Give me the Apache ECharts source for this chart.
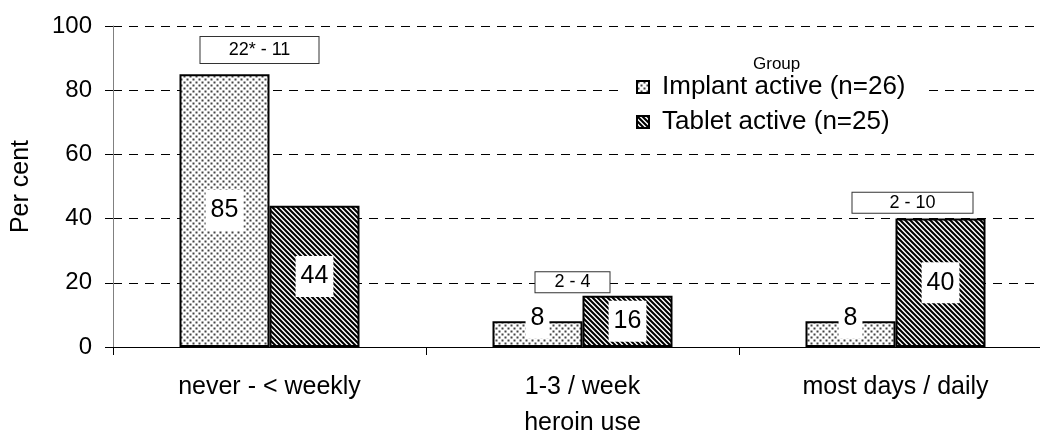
<!DOCTYPE html>
<html>
<head>
<meta charset="utf-8">
<script src="https://cdn.jsdelivr.net/npm/echarts@6/dist/echarts.min.js"></script>
<style>
  html, body { margin: 0; padding: 0; background: #fff; }
  #chart { width: 1040px; height: 433px; }
</style>
</head>
<body>
<div id="chart"></div>
<script>
  var categories = ['never - < weekly', '1-3 / week', 'most days / daily'];
  var implantValues = [85, 8, 8];
  var tabletValues = [44, 16, 40];
  var diffLabels = ['22* - 11', '2 - 4', '2 - 10'];
  var diffLevels = [92.5, 20.2, 44.9];
  var yTicks = [0, 20, 40, 60, 80, 100];

  var font = 'Liberation Sans, Arial, sans-serif';

  // dotted fill
  function dotPattern() {
    var c = document.createElement('canvas');
    c.width = 6; c.height = 6;
    var ctx = c.getContext('2d');
    ctx.fillStyle = '#fff';
    ctx.fillRect(0, 0, 6, 6);
    ctx.fillStyle = '#444';
    ctx.fillRect(0.5, 0.5, 2, 2);
    ctx.fillRect(3.5, 3.5, 2, 2);
    return c;
  }
  // diagonal stripes
  function stripePattern() {
    var c = document.createElement('canvas');
    c.width = 5; c.height = 5;
    var ctx = c.getContext('2d');
    ctx.fillStyle = '#fff';
    ctx.fillRect(0, 0, 5, 5);
    ctx.strokeStyle = '#000';
    ctx.lineWidth = 2.1;
    ctx.beginPath();
    ctx.moveTo(-1, -1); ctx.lineTo(6, 6);
    ctx.moveTo(-1, 4); ctx.lineTo(1, 6);
    ctx.moveTo(4, -1); ctx.lineTo(6, 1);
    ctx.stroke();
    return c;
  }

  function barData(values) {
    return values.map(function (v) {
      var item = { value: v };
      if (v < 10) item.label = { offset: [0, -16] };
      return item;
    });
  }

  var labelStyle = {
    show: true,
    position: 'inside',
    color: '#000',
    fontFamily: font,
    fontSize: 25,
    backgroundColor: '#fff',
    padding: [11, 5, 5, 5]
  };

  var myChart = echarts.init(document.getElementById('chart'));
  var option = {
    animation: false,
    title: {
      text: 'Group',
      left: 748,
      top: 51,
      z: 10,
      textStyle: { fontFamily: font, fontSize: 17, fontWeight: 'normal', color: '#000' }
    },
    legend: {
      orient: 'vertical',
      left: 620,
      top: 72,
      padding: [2, 22, 2, 16],
      backgroundColor: '#fff',
      itemWidth: 12,
      itemHeight: 12,
      itemGap: 9,
      icon: 'rect',
      textStyle: { fontFamily: font, fontSize: 26, color: '#000', padding: [0, 0, 0, 8] },
      data: ['Implant active (n=26)', 'Tablet active (n=25)']
    },
    grid: { left: 113, top: 26, width: 939, height: 321, outerBoundsMode: 'none', containLabel: false },
    xAxis: {
      type: 'category',
      data: categories,
      name: 'heroin use',
      nameLocation: 'middle',
      nameGap: 64,
      nameTextStyle: { fontFamily: font, fontSize: 25, color: '#000' },
      axisLine: { lineStyle: { color: '#000', width: 1 } },
      axisTick: { show: true, length: 8, lineStyle: { color: '#000' } },
      axisLabel: { fontFamily: font, fontSize: 25, color: '#000', margin: 28 }
    },
    yAxis: {
      type: 'value',
      min: 0,
      max: 100,
      interval: 20,
      name: 'Per cent',
      nameLocation: 'middle',
      nameGap: 79,
      nameTextStyle: { fontFamily: font, fontSize: 25, color: '#000' },
      axisLine: { show: true, lineStyle: { color: '#808080', width: 1 } },
      axisTick: { show: true, length: 8, lineStyle: { color: '#000' } },
      axisLabel: {
        fontFamily: font, fontSize: 24, color: '#000', margin: 21,
        formatter: function (v) { return yTicks.indexOf(v) >= 0 ? v : ''; }
      },
      splitLine: { show: true, lineStyle: { color: '#000', type: [9, 7], width: 1 } }
    },
    series: [
      {
        name: 'Implant active (n=26)',
        type: 'bar',
        barWidth: 90,
        barGap: '0%',
        data: barData(implantValues),
        itemStyle: {
          color: { image: dotPattern(), repeat: 'repeat' },
          borderColor: '#000',
          borderWidth: 2
        },
        label: labelStyle,
        markPoint: {
          symbol: 'rect',
          symbolSize: 0,
          data: diffLabels.map(function (t, i) {
            return {
              coord: [i, diffLevels[i]],
              value: t,
              label: {
                offset: [[35, 35, 62][i], 0],
                width: [106, 62, 108][i],
                padding: i === 0 ? [5, 6, 3, 6] : [2, 6, 0, 6]
              }
            };
          }),
          label: {
            show: true,
            position: 'inside',
            formatter: '{c}',
            color: '#000',
            fontFamily: font,
            fontSize: 18,
            align: 'center',
            backgroundColor: '#fff',
            borderColor: '#333',
            borderWidth: 1
          }
        }
      },
      {
        name: 'Tablet active (n=25)',
        type: 'bar',
        barWidth: 90,
        barGap: '0%',
        data: barData(tabletValues),
        itemStyle: {
          color: { image: stripePattern(), repeat: 'repeat' },
          borderColor: '#000',
          borderWidth: 2
        },
        label: labelStyle
      }
    ]
  };
  myChart.setOption(option);
</script>
</body>
</html>
